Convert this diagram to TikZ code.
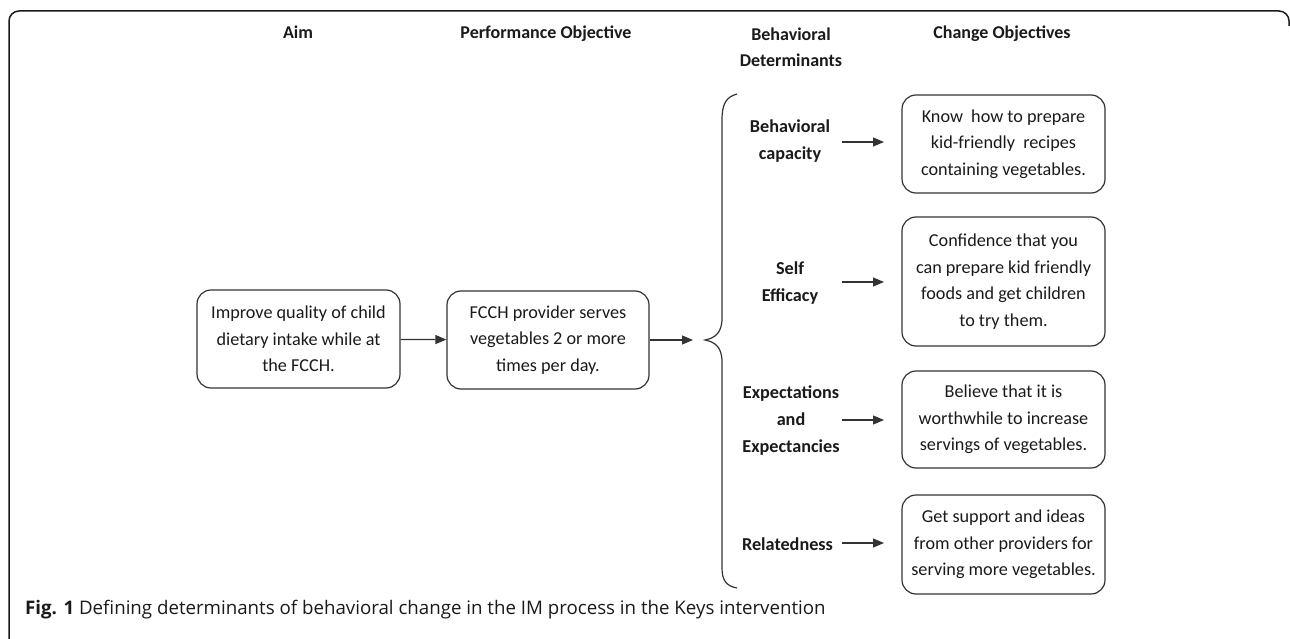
\documentclass[tikz,border=0pt]{standalone}
\usepackage{fontspec}
\setmainfont{Carlito}
\newfontfamily\capfont{Open Sans}
\usetikzlibrary{arrows.meta}
\definecolor{ln}{HTML}{333333}
\definecolor{tx}{HTML}{1A1A1A}
\begin{document}
\begin{tikzpicture}[x=1pt,y=-1pt,
  box/.style={draw=ln, line width=1.2pt, rounded corners=14pt, minimum width=203pt,
    align=center, inner sep=0pt, text=tx, font=\fontsize{18.2}{26.5}\selectfont},
  head/.style={align=center, inner sep=0pt, text=tx, font=\bfseries\fontsize{18}{26}\selectfont},
  det/.style={align=center, inner sep=0pt, text=tx, font=\bfseries\fontsize{18.2}{27}\selectfont},
  arr/.style={draw=ln, line width=1.2pt, -{Triangle[length=11pt,width=9pt]}},
  frame/.style={draw=tx, line width=1.5pt, rounded corners=10pt}]
\useasboundingbox (0,0) rectangle (1290,639);
% outer frame
\draw[frame] (9,645) -- (9,11) -- (1289,11) -- (1289,26);
% headers
\node[head, anchor=base] (hAim) at (298,39) {Aim};
\node[head, anchor=base] (hPO) at (546,39) {Performance Objective};
\node[head] (hBD) at (791,47.5) {Behavioral\\Determinants};
\node[head, anchor=base] (hCO) at (1002,39) {Change Objectives};
% main boxes
\node[box, minimum height=98pt] (aim) at (298.5,339) {Improve quality of child\\dietary intake while at\\the FCCH.};
\node[box, minimum width=202pt, minimum height=98pt] (po) at (548,340) {FCCH provider serves\\vegetables 2 or more\\times per day.};
\draw[arr] (aim) -- (po);
\coordinate (bArr) at (693,340);
\draw[arr] (po) -- (bArr);
% brace
\coordinate (bTip) at (705,340);
\coordinate (bTop) at (737,94);
\coordinate (bBot) at (737,588);
\draw[draw=ln, line width=1.2pt] (bTop) .. controls (726,97) and (722,104) .. (722,120)
  -- (722,318) .. controls (722,333) and (715,338) .. (bTip)
  .. controls (715,342) and (722,347) .. (722,362)
  -- (722,568) .. controls (722,580) and (726,586) .. (bBot);
% determinants
\node[det] (d1) at (790,141.5) {Behavioral\\capacity};
\node[det] (d2) at (790,283.5) {Self\\Efficacy};
\node[det] (d3) at (791,421) {Expectations\\and\\Expectancies};
\node[det] (d4) at (787.5,544) {Relatedness};
% change objectives
\node[box, minimum height=98pt] (co1) at (1003.5,144) {Know\ \ how to prepare\\kid-friendly\ \ recipes\\containing vegetables.};
\node[box, minimum height=129pt] (co2) at (1003.5,281.5) {Confidence that you\\can prepare kid friendly\\foods and get children\\to try them.};
\node[box, minimum height=97pt] (co3) at (1003.5,419.5) {Believe that it is\\worthwhile to increase\\servings of vegetables.};
\node[box, minimum height=99pt] (co4) at (1003.5,544.5) {Get support and ideas\\from other providers for\\serving more vegetables.};
% arrows determinant -> change objective
\coordinate (s1) at (842,142); \coordinate (e1) at (884,142);
\coordinate (s2) at (842,282); \coordinate (e2) at (884,282);
\coordinate (s3) at (842,420); \coordinate (e3) at (884,420);
\coordinate (s4) at (842,543); \coordinate (e4) at (884,543);
\draw[arr] (s1) -- (e1);
\draw[arr] (s2) -- (e2);
\draw[arr] (s3) -- (e3);
\draw[arr] (s4) -- (e4);
% caption
\node[anchor=base west, inner sep=0pt, text=tx, font=\capfont\fontsize{18.7}{20}\selectfont] (cap) at (25,614)
  {\textbf{Fig. 1} Defining determinants of behavioral change in the IM process in the Keys intervention};
\end{tikzpicture}
\end{document}
